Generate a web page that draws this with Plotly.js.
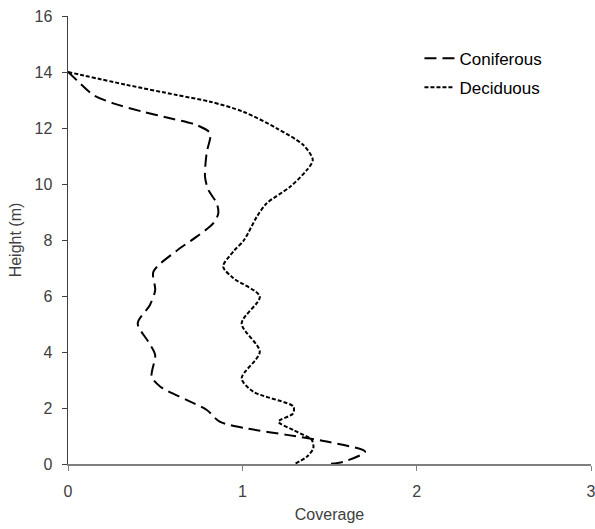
<!DOCTYPE html>
<html>
<head>
<meta charset="utf-8">
<script src="https://cdn.plot.ly/plotly-3.0.1.min.js"></script>
<style>html,body{margin:0;padding:0;background:#fff;}#chart{width:595px;height:529px;}</style>
</head>
<body>
<div id="chart"></div>
<script>
const coniferousX = [0, 0.05, 0.145, 0.26, 0.43, 0.585, 0.74, 0.815, 0.795, 0.786, 0.805, 0.853, 0.862, 0.834, 0.738, 0.62, 0.49, 0.5, 0.47, 0.40, 0.46, 0.5, 0.48, 0.53, 0.68, 0.796, 0.87, 1.025, 1.255, 1.484, 1.704, 1.58, 1.50];
const coniferousY = [14, 13.71, 13.18, 12.88, 12.58, 12.35, 12.1, 11.81, 11.1, 10.26, 9.79, 9.31, 8.95, 8.6, 8.12, 7.6, 6.87, 6.21, 5.68, 5.02, 4.37, 3.89, 3.12, 2.76, 2.29, 1.93, 1.51, 1.27, 1.04, 0.80, 0.44, 0.08, 0];
const deciduousX = [0, 0.337, 0.623, 0.815, 1.006, 1.197, 1.35, 1.404, 1.37, 1.274, 1.14, 1.083, 1.01, 0.95, 0.89, 0.95, 1.10, 0.996, 1.10, 0.996, 1.063, 1.293, 1.29, 1.207, 1.293, 1.398, 1.407, 1.37, 1.30];
const deciduousY = [14, 13.54, 13.18, 12.94, 12.58, 11.99, 11.39, 10.86, 10.5, 9.9, 9.31, 8.83, 8.0, 7.6, 7.05, 6.63, 5.98, 5.02, 4.01, 3.06, 2.58, 2.05, 1.8, 1.51, 1.21, 0.86, 0.56, 0.26, 0];
const seriesNames = ['Coniferous', 'Deciduous'];

const traces = [
  {x: coniferousX, y: coniferousY, name: seriesNames[0], mode: 'lines', legendgroup: 'a',
   line: {color: '#000', width: 2, dash: '12px,6px', shape: 'spline', smoothing: 0.8}},
  {x: deciduousX, y: deciduousY, name: seriesNames[1], mode: 'lines', legendgroup: 'b',
   line: {color: '#000', width: 2, dash: '4px,2px', shape: 'spline', smoothing: 0.8}}
];

const fam = 'Liberation Sans, Arial, sans-serif';
const tickFont = {family: fam, size: 16, color: '#404040'};
const layout = {
  width: 595, height: 529,
  margin: {l: 68, r: 4, t: 16, b: 65},
  paper_bgcolor: '#fff', plot_bgcolor: '#fff',
  showlegend: true,
  legend: {x: 0.672, y: 0.945, xanchor: 'left', yanchor: 'top', bgcolor: 'rgba(0,0,0,0)',
           font: {family: fam, size: 17, color: '#000'},
           traceorder: 'grouped', tracegroupgap: 4},
  xaxis: {range: [0, 3], dtick: 1, tick0: 0, showgrid: false, zeroline: false,
          showline: true, linecolor: '#7f7f7f', linewidth: 1.5,
          ticks: 'outside', ticklen: 5, tickcolor: '#7f7f7f',
          ticklabelstandoff: 7, ticklabeloverflow: 'allow',
          tickfont: tickFont,
          title: {text: 'Coverage', font: {family: fam, size: 16, color: '#404040'}, standoff: 10}},
  yaxis: {range: [0, 16], dtick: 2, tick0: 0, showgrid: false, zeroline: false,
          showline: true, linecolor: '#404040', linewidth: 1.5,
          ticks: 'outside', ticklen: 5, tickcolor: '#404040',
          ticklabelstandoff: 6,
          tickfont: tickFont,
          title: {text: 'Height (m)', font: {family: fam, size: 16, color: '#404040'}, standoff: 9}}
};
Plotly.newPlot('chart', traces, layout, {displayModeBar: false, staticPlot: true});
</script>
</body>
</html>
